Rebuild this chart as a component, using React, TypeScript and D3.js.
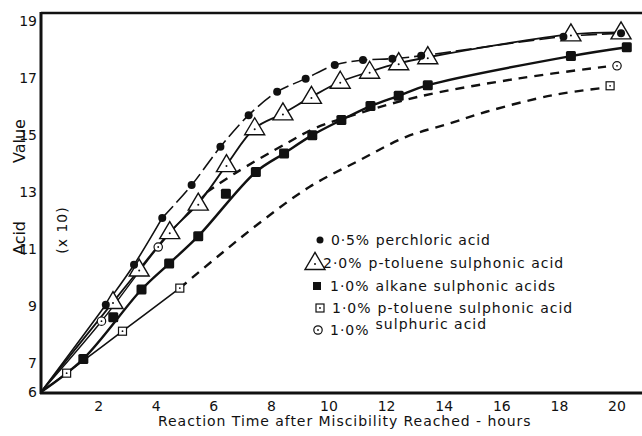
import React from "react";
import * as d3 from "d3";

// ---- data (hours, acid value x10) ----
const xTicks = [2, 4, 6, 8, 10, 12, 14, 16, 18, 20];
const yTicks = [6, 7, 9, 11, 13, 15, 17, 19];

const perchloricMarkers: [number, number][] = [
  [2.25, 9.06], [3.23, 10.46], [4.21, 12.1], [5.23, 13.25], [6.23, 14.59], [7.21, 15.7],
  [8.2, 16.52], [9.19, 16.98], [10.2, 17.46], [11.18, 17.63], [12.2, 17.68], [13.2, 17.78],
  [18.14, 18.45], [20.14, 18.57],
];
const perchloricSolid: [number, number][] = [[0, 6], [2.25, 9.06], [3.23, 10.46], [4.21, 12.1]];
const perchloricDashed: [number, number][] = [
  [4.21, 12.1], [5.23, 13.25], [6.23, 14.59], [7.21, 15.7], [8.2, 16.52], [9.19, 16.98],
  [10.2, 17.46], [11.18, 17.63], [12.2, 17.68], [13.2, 17.78], [18.14, 18.45], [20.14, 18.57],
];

const ptsa2Markers: [number, number][] = [
  [2.5, 9.15], [3.41, 10.29], [4.47, 11.6], [5.46, 12.6], [6.44, 13.95], [7.42, 15.24],
  [8.4, 15.76], [9.39, 16.34], [10.39, 16.87], [11.41, 17.22], [12.42, 17.52], [13.43, 17.73],
  [18.4, 18.53], [20.14, 18.6],
];
const ptsa2Line: [number, number][] = [[0, 6], ...ptsa2Markers];

const alkaneMarkers: [number, number][] = [
  [1.47, 7.16], [2.51, 8.62], [3.49, 9.59], [4.45, 10.5], [5.46, 11.46], [6.42, 12.95],
  [7.46, 13.71], [8.44, 14.36], [9.42, 15.0], [10.43, 15.53], [11.44, 16.02], [12.42, 16.38],
  [13.43, 16.75], [18.4, 17.77], [20.34, 18.08],
];
const alkaneLine: [number, number][] = [
  [0, 6], [1.47, 7.16], [3.49, 9.59], [4.45, 10.5], [5.46, 11.46], [7.46, 13.71], [8.44, 14.36],
  [9.42, 15.0], [10.43, 15.53], [11.44, 16.02], [12.42, 16.38], [13.43, 16.75], [18.4, 17.77],
  [20.34, 18.08],
];

const ptsa1Markers: [number, number][] = [[0.89, 6.66], [2.83, 8.13], [4.82, 9.64], [19.76, 16.73]];
const ptsa1Solid: [number, number][] = [[0, 6], [0.89, 6.66], [2.83, 8.13], [4.82, 9.64]];
const ptsa1Dashed: [number, number][] = [
  [4.82, 9.64], [6.2, 10.8], [7.71, 12.02], [9.33, 13.19], [11.06, 14.12], [12.68, 14.94],
  [14.19, 15.41], [15.46, 15.82], [17.76, 16.4], [19.39, 16.64],
];

const sulphuricMarkers: [number, number][] = [[2.1, 8.48], [4.07, 11.08], [20.0, 17.43]];
const sulphuricSolid: [number, number][] = [[0, 6], [2.1, 8.48], [4.07, 11.08], [5.75, 13.0]];
const sulphuricDashed: [number, number][] = [
  [5.75, 13.0], [6.73, 13.66], [8.52, 14.71], [9.5, 15.24], [10.49, 15.59], [13.08, 16.34],
  [16.6, 16.99], [19.62, 17.4],
];

const legendPercents = ["0·5%", "2·0%", "1·0%", "1·0%", "1·0%"];
const legendNames = [
  "perchloric acid",
  "p-toluene sulphonic acid",
  "alkane sulphonic acids",
  "p-toluene sulphonic acid",
  "sulphuric acid",
];

const INK = "#111";
const FONT = "'DejaVu Sans', sans-serif";

const x = d3.scaleLinear().domain([0, 20]).range([41, 617]);
const y = d3.scaleLinear().domain([6, 19]).range([392, 21]);

const line = d3
  .line<[number, number]>()
  .x((d) => x(d[0]))
  .y((d) => y(d[1]))
  .curve(d3.curveCatmullRom.alpha(0.5));

function Dot({ cx, cy }: { cx: number; cy: number }) {
  return <circle cx={cx} cy={cy} r={4} fill={INK} />;
}
function Tri({ cx, cy }: { cx: number; cy: number }) {
  const w = 10, h = 17;
  return (
    <g>
      <path
        d={`M${cx},${cy - h * 0.62} L${cx + w},${cy + h * 0.38} L${cx - w},${cy + h * 0.38} Z`}
        fill="#fff"
        stroke={INK}
        strokeWidth={1.4}
      />
      <circle cx={cx} cy={cy + 1} r={1} fill={INK} />
    </g>
  );
}
function FSq({ cx, cy }: { cx: number; cy: number }) {
  return <rect x={cx - 5} y={cy - 5} width={10} height={10} rx={1.5} fill={INK} />;
}
function OSq({ cx, cy }: { cx: number; cy: number }) {
  return (
    <g>
      <rect x={cx - 4} y={cy - 4} width={8} height={8} fill="#fff" stroke={INK} strokeWidth={1.2} />
      <circle cx={cx} cy={cy} r={0.9} fill={INK} />
    </g>
  );
}
function OCirc({ cx, cy }: { cx: number; cy: number }) {
  return (
    <g>
      <circle cx={cx} cy={cy} r={4.2} fill="#fff" stroke={INK} strokeWidth={1.2} />
      <circle cx={cx} cy={cy} r={0.9} fill={INK} />
    </g>
  );
}

export default function App() {
  const legendRows = [
    { sym: (cx: number, cy: number) => <circle cx={cx} cy={cy} r={3.5} fill={INK} />, mx: 320, tx: 331, ty: 240 },
    { sym: (cx: number, cy: number) => <Tri cx={cx} cy={cy} />, mx: 315, tx: 323, ty: 263 },
    { sym: (cx: number, cy: number) => <rect x={cx - 4} y={cy - 4} width={8} height={8} fill={INK} />, mx: 317, tx: 330, ty: 286 },
    { sym: (cx: number, cy: number) => <OSq cx={cx} cy={cy} />, mx: 320, tx: 332, ty: 308 },
    { sym: (cx: number, cy: number) => <OCirc cx={cx} cy={cy} />, mx: 318, tx: 330, ty: 330 },
  ];
  return (
    <svg width={642} height={436} style={{ display: "block", position: "absolute", left: 0, top: 0, background: "#fff" }}>
      <rect width={642} height={436} fill="#fff" />
      {/* frame */}
      <line x1={41} y1={13} x2={642} y2={13} stroke={INK} strokeWidth={2.5} />
      <line x1={41} y1={12} x2={41} y2={394} stroke={INK} strokeWidth={3} />
      <line x1={40} y1={393} x2={642} y2={393} stroke={INK} strokeWidth={3} />

      {/* ticks */}
      {yTicks.map((v) => (
        <text key={v} x={37} y={y(v)} textAnchor="end" dominantBaseline="central" fontFamily={FONT} fontSize={14} fill={INK}>
          {v}
        </text>
      ))}
      {xTicks.map((v) => (
        <text key={v} x={x(v)} y={406} textAnchor="middle" dominantBaseline="central" fontFamily={FONT} fontSize={14} fill={INK}>
          {v}
        </text>
      ))}

      {/* axis titles */}
      <text transform="translate(25,238) rotate(-90)" textAnchor="middle" fontFamily={FONT} fontSize={16} fill={INK}>Acid</text>
      <text transform="translate(25,141) rotate(-90)" textAnchor="middle" fontFamily={FONT} fontSize={16} fill={INK}>Value</text>
      <text transform="translate(67,230) rotate(-90)" textAnchor="middle" fontFamily={FONT} fontSize={14} fill={INK} letterSpacing={1}>(x 10)</text>
      <text x={158} y={426} fontFamily={FONT} fontSize={14} letterSpacing={0.95} fill={INK}>
        Reaction Time  after Miscibility Reached - hours
      </text>

      {/* lines */}
      <path d={line(perchloricSolid) || ""} fill="none" stroke={INK} strokeWidth={1.6} />
      <path d={line(perchloricDashed) || ""} fill="none" stroke={INK} strokeWidth={1.6} strokeDasharray="16,5" />
      <path d={line(ptsa2Line) || ""} fill="none" stroke={INK} strokeWidth={1.8} />
      <path d={line(alkaneLine) || ""} fill="none" stroke={INK} strokeWidth={2.4} />
      <path d={line(ptsa1Solid) || ""} fill="none" stroke={INK} strokeWidth={1.6} />
      <path d={line(ptsa1Dashed) || ""} fill="none" stroke={INK} strokeWidth={2.4} strokeDasharray="9,7" />
      <path d={line(sulphuricSolid) || ""} fill="none" stroke={INK} strokeWidth={1.4} />
      <path d={line(sulphuricDashed) || ""} fill="none" stroke={INK} strokeWidth={2.4} strokeDasharray="9,7" />

      {/* markers */}
      {alkaneMarkers.map((d, i) => <FSq key={"a" + i} cx={x(d[0])} cy={y(d[1])} />)}
      {ptsa1Markers.map((d, i) => <OSq key={"p1" + i} cx={x(d[0])} cy={y(d[1])} />)}
      {sulphuricMarkers.map((d, i) => <OCirc key={"s" + i} cx={x(d[0])} cy={y(d[1])} />)}
      {ptsa2Markers.map((d, i) => <Tri key={"t" + i} cx={x(d[0])} cy={y(d[1])} />)}
      {perchloricMarkers.map((d, i) => <Dot key={"c" + i} cx={x(d[0])} cy={y(d[1])} />)}

      {/* legend */}
      {legendRows.map((r, i) => (
        <g key={i}>
          {r.sym(r.mx, r.ty)}
          <text x={r.tx} y={r.ty} dominantBaseline="central" fontFamily={FONT} fontSize={14} letterSpacing={i === 0 ? 0.8 : 1} fill={INK}>
            {legendPercents[i]}
            <tspan dx={6} dy={i === 4 ? -6 : 0}>{legendNames[i]}</tspan>
          </text>
        </g>
      ))}
    </svg>
  );
}
